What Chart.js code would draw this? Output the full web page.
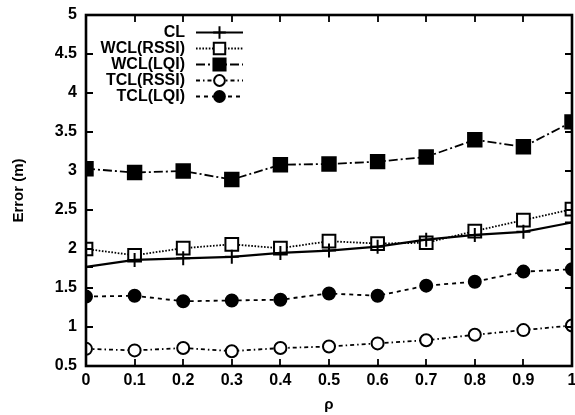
<!DOCTYPE html>
<html>
<head>
<meta charset="utf-8">
<script src="https://cdn.jsdelivr.net/npm/chart.js@4/dist/chart.umd.min.js"></script>
<style>
  html, body { margin: 0; padding: 0; background: #fff; }
  #wrap { width: 575px; height: 415px; }
</style>
</head>
<body>
<div id="wrap"><canvas id="chart" width="575" height="415"></canvas></div>
<script>
  // rho values on the x axis
  var RHO = [0, 0.1, 0.2, 0.3, 0.4, 0.5, 0.6, 0.7, 0.8, 0.9, 1.0];

  // localization error (m) per method
  var CL        = [1.77, 1.86, 1.88, 1.90, 1.95, 1.98, 2.03, 2.12, 2.18, 2.22, 2.34];
  var WCL_RSSI  = [2.00, 1.92, 2.01, 2.06, 2.01, 2.10, 2.07, 2.08, 2.23, 2.37, 2.51];
  var WCL_LQI   = [3.03, 2.98, 3.00, 2.89, 3.08, 3.09, 3.12, 3.18, 3.40, 3.31, 3.63];
  var TCL_RSSI  = [0.72, 0.70, 0.73, 0.69, 0.73, 0.75, 0.79, 0.83, 0.90, 0.96, 1.02];
  var TCL_LQI   = [1.39, 1.40, 1.33, 1.34, 1.35, 1.43, 1.40, 1.53, 1.58, 1.71, 1.74];

  var SERIES_NAMES = ['CL', 'WCL(RSSI)', 'WCL(LQI)', 'TCL(RSSI)', 'TCL(LQI)'];

  var X_TICKS = [0, 0.1, 0.2, 0.3, 0.4, 0.5, 0.6, 0.7, 0.8, 0.9, 1];
  var Y_TICKS = [0.5, 1, 1.5, 2, 2.5, 3, 3.5, 4, 4.5, 5];

  var FONT = '"Liberation Sans", Arial, sans-serif';

  var STYLES = [
    { dash: [],               pointStyle: 'cross', radius: 7,   fill: '#000', width: 2.2 },
    { dash: [1.6, 1.6],       pointStyle: 'rect',  radius: 9,   fill: '#fff', width: 1.8 },
    { dash: [9, 3, 2, 3],     pointStyle: 'rect',  radius: 9.5, fill: '#000', width: 1.8 },
    { dash: [4, 3, 1.5, 3],   pointStyle: 'circle', radius: 6,  fill: '#fff', width: 1.8 },
    { dash: [4, 4],           pointStyle: 'circle', radius: 6,  fill: '#000', width: 1.8 }
  ];

  function toPoints(ys) {
    return ys.map(function (y, i) { return { x: RHO[i], y: y }; });
  }

  var seriesData = [CL, WCL_RSSI, WCL_LQI, TCL_RSSI, TCL_LQI];
  var datasets = seriesData.map(function (ys, i) {
    var s = STYLES[i];
    return {
      label: SERIES_NAMES[i],
      data: toPoints(ys),
      borderColor: '#000',
      borderWidth: s.width,
      borderDash: s.dash,
      pointStyle: s.pointStyle,
      pointRadius: s.radius,
      pointBackgroundColor: s.fill,
      pointBorderColor: '#000',
      pointBorderWidth: 2,
      tension: 0,
      fill: false
    };
  });

  // frame + inward tick marks on all four sides
  var frameTicks = {
    id: 'frameTicks',
    afterDraw: function (chart) {
      var ctx = chart.ctx, a = chart.chartArea;
      var xs = chart.scales.x, ys = chart.scales.y;
      var len = 7;
      ctx.save();
      ctx.strokeStyle = '#000';
      ctx.setLineDash([]);
      ctx.lineWidth = 1.8;
      ctx.beginPath();
      X_TICKS.forEach(function (v) {
        var px = Math.round(xs.getPixelForValue(v));
        ctx.moveTo(px, a.bottom); ctx.lineTo(px, a.bottom - len);
        ctx.moveTo(px, a.top); ctx.lineTo(px, a.top + len);
      });
      Y_TICKS.forEach(function (v) {
        var py = Math.round(ys.getPixelForValue(v));
        ctx.moveTo(a.left, py); ctx.lineTo(a.left + len, py);
        ctx.moveTo(a.right, py); ctx.lineTo(a.right - len, py);
      });
      ctx.stroke();
      ctx.lineWidth = 2.6;
      ctx.strokeRect(a.left, a.top, a.right - a.left, a.bottom - a.top);
      ctx.restore();
    }
  };

  // gnuplot-like legend: right aligned labels, sample line with marker
  var keyBox = {
    id: 'keyBox',
    afterDatasetsDraw: function (chart) {
      var ctx = chart.ctx;
      var textRight = 185, lineL = 196, lineR = 243, y0 = 32, step = 16;
      ctx.save();
      ctx.font = 'bold 16px ' + FONT;
      ctx.textAlign = 'right';
      ctx.textBaseline = 'middle';
      SERIES_NAMES.forEach(function (name, i) {
        var s = STYLES[i];
        var y = y0 + i * step;
        ctx.fillStyle = '#fff';
        ctx.fillRect(textRight - 90, y - 8, lineR - textRight + 92, 16);
        ctx.fillStyle = '#000';
        ctx.fillText(name, textRight, y + 1);
        ctx.strokeStyle = '#000';
        ctx.lineWidth = s.width;
        ctx.setLineDash(s.dash);
        ctx.beginPath();
        ctx.moveTo(lineL, y + 0.5);
        ctx.lineTo(lineR, y + 0.5);
        ctx.stroke();
        ctx.setLineDash([]);
        ctx.fillStyle = s.fill;
        ctx.lineWidth = 2;
        Chart.helpers.drawPoint(ctx, {
          pointStyle: s.pointStyle, radius: s.radius * 0.9, rotation: 0, borderWidth: 2
        }, (lineL + lineR) / 2, y + 0.5);
      });
      ctx.restore();
    }
  };

  new Chart(document.getElementById('chart'), {
    type: 'line',
    data: { datasets: datasets },
    plugins: [frameTicks, keyBox],
    options: {
      responsive: false,
      animation: false,
      events: [],
      layout: { autoPadding: false, padding: { left: 0, top: 15, right: 3, bottom: 0 } },
      plugins: { legend: { display: false }, tooltip: { enabled: false } },
      scales: {
        x: {
          type: 'linear',
          min: 0,
          max: 1,
          afterFit: function (s) {
            s.height = 49;
            s.paddingLeft = 0; s.paddingRight = 0;
          },
          afterBuildTicks: function (s) { s.ticks = X_TICKS.map(function (v) { return { value: v }; }); },
          grid: { display: false, drawTicks: false },
          border: { display: false },
          ticks: {
            padding: 5,
            color: '#000',
            maxRotation: 0,
            autoSkip: false,
            font: { family: FONT, size: 16, weight: 'bold' },
            callback: function (v) { return String(v); }
          },
          title: {
            display: true,
            text: 'ρ',
            color: '#000',
            padding: { top: 0, bottom: 1 },
            font: { family: FONT, size: 15, weight: 'bold' }
          }
        },
        y: {
          min: 0.5,
          max: 5,
          afterFit: function (s) {
            s.width = 86;
            s.paddingTop = 0; s.paddingBottom = 0;
          },
          afterBuildTicks: function (s) { s.ticks = Y_TICKS.map(function (v) { return { value: v }; }); },
          grid: { display: false, drawTicks: false },
          border: { display: false },
          ticks: {
            padding: 9,
            color: '#000',
            autoSkip: false,
            font: { family: FONT, size: 16, weight: 'bold' },
            callback: function (v) { return String(v); }
          },
          title: {
            display: true,
            text: 'Error (m)',
            color: '#000',
            padding: { top: 10, bottom: 0 },
            font: { family: FONT, size: 15, weight: 'bold' }
          }
        }
      }
    }
  });
</script>
</body>
</html>
